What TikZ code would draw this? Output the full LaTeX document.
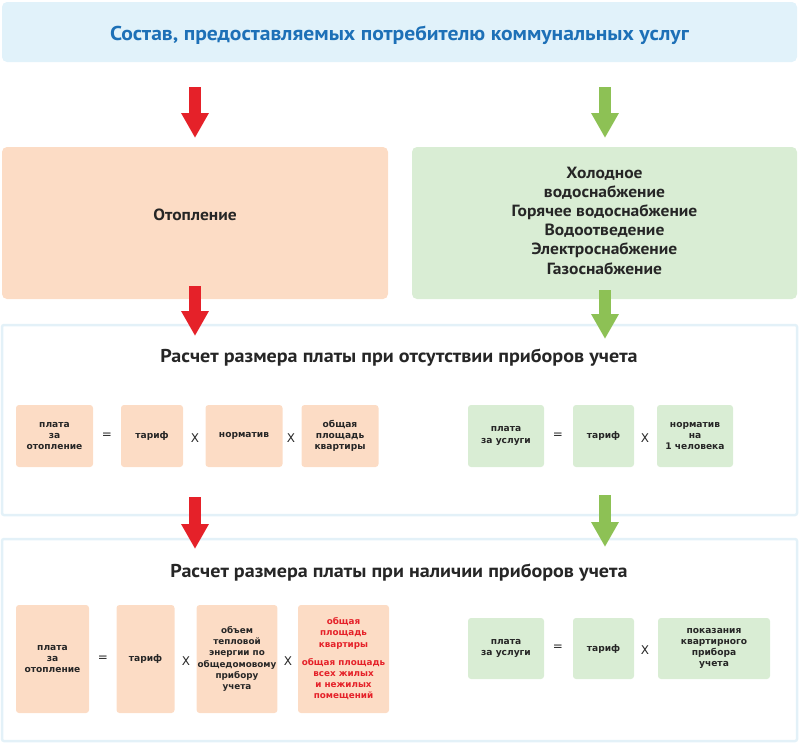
\documentclass[tikz,border=0pt]{standalone}
\usepackage{fontspec}
\setmainfont{PT Sans}
\newfontfamily\headfont[FakeStretch=1.08]{PT Sans}
\newfontfamily\boxfont{DejaVu Sans}
\usetikzlibrary{arrows.meta}

\definecolor{headblue}{HTML}{E1F2FA}
\definecolor{titleblue}{HTML}{1D70B7}
\definecolor{peach}{HTML}{FCDCC5}
\definecolor{mint}{HTML}{D9EDD4}
\definecolor{frameblue}{HTML}{E3F1F8}
\definecolor{darktext}{HTML}{262626}
\definecolor{arrred}{HTML}{E52129}
\definecolor{arrgreen}{HTML}{8DC155}

\tikzset{
  bigbox/.style={rounded corners=5, text=darktext, align=center, inner sep=0,
    font=\headfont\bfseries\fontsize{16.2}{19.2}\selectfont},
  obox/.style={fill=peach, rounded corners=3, text=darktext, align=center, inner sep=1,
    font=\boxfont\bfseries\fontsize{9.1}{11.2}\selectfont},
  gbox/.style={obox, fill=mint},
  small/.style={font=\boxfont\bfseries\fontsize{8.8}{11.2}\selectfont},
  op/.style={text=darktext, font=\boxfont\fontsize{12}{12}\selectfont},
  frame/.style={frameblue, line width=2.5, rounded corners=2},
  heading/.style={text=darktext, font=\headfont\bfseries\fontsize{18.6}{20}\selectfont},
  blockarrow/.style={line width=12.5, -{Triangle[width=26pt, length=25pt]}},
}

\begin{document}
\begin{tikzpicture}[x=1pt, y=-1pt]
  \useasboundingbox (0,0) rectangle (800,744);

  % header
  \node[bigbox, fill=headblue, minimum width=795, minimum height=60] (head) at (399.5,32) {};
  \node[bigbox, text=titleblue, font=\headfont\bfseries\fontsize{20}{22}\selectfont] (headtxt)
    at (399.5,35.5) {Состав, предоставляемых потребителю коммунальных услуг};

  % two services
  \node[bigbox, fill=peach, minimum width=386, minimum height=152] (heat) at (195,223) {};
  \node[bigbox] (heattxt) at (195,215) {Отопление};
  \node[bigbox, fill=mint, minimum width=385, minimum height=152] (other) at (604.5,223) {};
  \node[bigbox] (othertxt) at (604.5,220.5)
    {Холодное\\водоснабжение\\Горячее водоснабжение\\Водоотведение\\Электроснабжение\\Газоснабжение};

  % frames
  \draw[frame] (2,325) rectangle (797,515);
  \draw[frame] (2,539) rectangle (797,741);
  \node[heading] (title1) at (399,358) {Расчет размера платы при отсутствии приборов учета};
  \node[heading] (title2) at (399,573) {Расчет размера платы при наличии приборов учета};

  % arrows
  \draw[blockarrow, arrred] (195,87) -- (195,138);
  \draw[blockarrow, arrgreen] (605,87) -- (605,138);
  \draw[blockarrow, arrred] (195,286) -- (195,336);
  \draw[blockarrow, arrgreen] (605,290) -- (605,339);
  \draw[blockarrow, arrred] (195,497) -- (195,549);
  \draw[blockarrow, arrgreen] (605,495) -- (605,547);

  % without meters, heating
  \node[obox, minimum width=77, minimum height=62] (payA) at (54.5,436) {плата\\за\\отопление};
  \node[op] (eqA) at (107,436) {=};
  \node[obox, minimum width=62, minimum height=62] (tarA) at (152,436) {тариф};
  \node[op] (mulA) at (195,438) {X};
  \node[obox, minimum width=77, minimum height=62] (normA) at (244,436) {норматив};
  \node[op] (mulB) at (291,438) {X};
  \node[obox, minimum width=77, minimum height=62] (areaA) at (340,436) {общая\\площадь\\квартиры};

  % without meters, other services
  \node[gbox, minimum width=76, minimum height=62] (payB) at (506,436) {плата\\за услуги};
  \node[op] (eqB) at (558,436) {=};
  \node[gbox, minimum width=61, minimum height=62] (tarB) at (603.5,436) {тариф};
  \node[op] (mulC) at (645,438) {X};
  \node[gbox, minimum width=76, minimum height=62] (normB) at (695,436) {норматив\\на\\1 человека};

  % with meters, heating
  \node[obox, minimum width=73, minimum height=108] (payC) at (52.5,659) {плата\\за\\отопление};
  \node[op] (eqC) at (103,659) {=};
  \node[obox, minimum width=58, minimum height=108] (tarC) at (145.5,659) {тариф};
  \node[op] (mulD) at (186,661) {X};
  \node[obox, small, minimum width=80, minimum height=108] (volC) at (237,659)
    {объем\\тепловой\\энергии по\\общедомовому\\прибору\\учета};
  \node[op] (mulE) at (288,661) {X};
  \node[obox, small, minimum width=91, minimum height=108, text=arrred] (areaC) at (343.5,659)
    {общая\\площадь\\квартиры\\[7pt]общая площадь\\всех жилых\\и нежилых\\помещений};

  % with meters, other services
  \node[gbox, minimum width=76, minimum height=61] (payD) at (506,648.5) {плата\\за услуги};
  \node[op] (eqD) at (558,648) {=};
  \node[gbox, minimum width=61, minimum height=61] (tarD) at (603.5,648.5) {тариф};
  \node[op] (mulF) at (645,650) {X};
  \node[gbox, minimum width=112, minimum height=61] (readD) at (714,648.5)
    {показания\\квартирного\\прибора\\учета};
\end{tikzpicture}
\end{document}
